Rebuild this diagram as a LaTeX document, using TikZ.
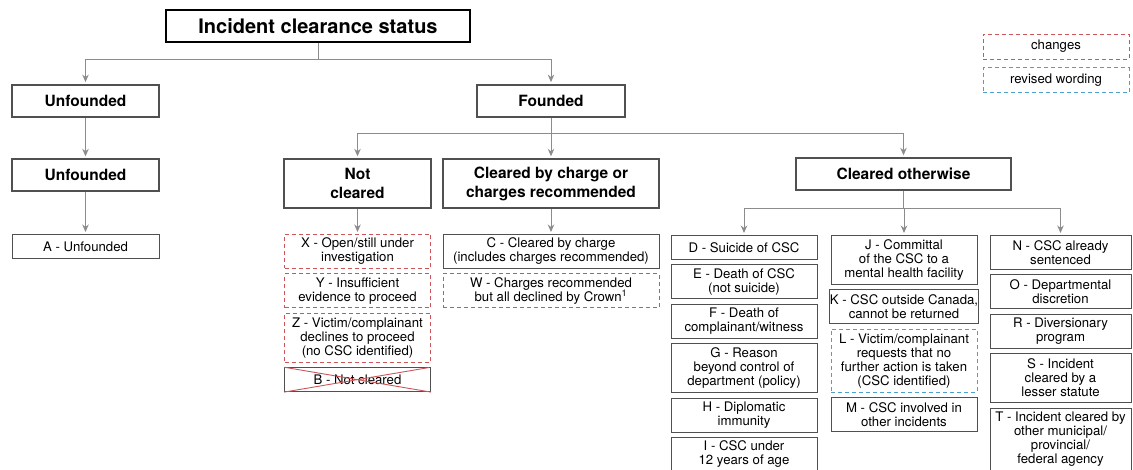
\documentclass[tikz,border=0pt]{standalone}
\usepackage{fontspec}
\setmainfont{TeX Gyre Heros}
\usetikzlibrary{arrows.meta, positioning}

\definecolor{boxgray}{RGB}{80,80,80}
\definecolor{linkgray}{RGB}{140,140,140}
\definecolor{chgred}{RGB}{205,85,90}
\definecolor{rewblue}{RGB}{75,160,205}

\tikzset{
	head/.style={draw=boxgray, line width=1.4pt, fill=white, text=black, align=center, inner sep=0pt, font=\bfseries\fontsize{15.5}{19}\selectfont},
	tier/.style={head, line width=1.8pt, minimum height=32pt},
	root/.style={head, draw=black, line width=1.8pt, minimum width=304pt, minimum height=32pt, font=\bfseries\fontsize{20}{24}\selectfont},
	leaf/.style={draw=boxgray, line width=0.9pt, fill=white, text=black, align=center, inner sep=0pt, minimum width=146pt, font=\fontsize{13.2}{14}\selectfont},
	changed/.style={leaf, draw=chgred, dash pattern=on 4pt off 3pt},
	reworded/.style={leaf, draw=rewblue, dash pattern=on 4pt off 3pt},
	l1/.style={minimum height=24pt},
	l2/.style={minimum height=34pt},
	l3/.style={minimum height=49pt},
	l4/.style={minimum height=63pt},
	link/.style={draw=linkgray, line width=1pt, ->}
}

\begin{document}
\begin{tikzpicture}[x=1pt, y=-1pt, >={Stealth[length=7.5pt, width=6.5pt]}, shorten >=2pt, node distance=4.5pt]
	\useasboundingbox[fill=white] (0,0) rectangle (1133,469);

	% headings
	\node[root] (status) at (318,26) {Incident clearance status};
	\node[tier, minimum width=147pt] (unfounded) at (85.5,101) {Unfounded};
	\node[tier, minimum width=148pt] (founded) at (551,101) {Founded};
	\node[head, minimum width=147pt, minimum height=32pt] (unfounded2) at (85.5,175) {Unfounded};
	\node[head, minimum width=147pt, minimum height=49pt] (notcleared) at (357.5,183.5) {Not\\cleared};
	\node[head, minimum width=216pt, minimum height=49pt] (chargecl) at (551,183.5) {Cleared by charge or\\charges recommended};
	\node[head, minimum width=215pt, minimum height=32pt] (otherwise) at (903.5,174) {Cleared otherwise};

	% unfounded
	\node[leaf, l1, minimum width=147pt, anchor=north] (lA) at (85.5,234) {A - Unfounded};

	% not cleared
	\node[changed, l2, anchor=north] (lX) at (357.5,234) {X - Open/still under\\investigation};
	\node[changed, l2, below=of lX] (lY) {Y - Insufficient\\evidence to proceed};
	\node[changed, l3, below=of lY] (lZ) {Z - Victim/complainant\\declines to proceed\\(no CSC identified)};
	\node[leaf, l1, below=of lZ] (lB) {B - Not cleared};
	\draw[chgred, line width=0.9pt] (lB.north west) -- (lB.south east) (lB.south west) -- (lB.north east);

	% cleared by charge
	\node[leaf, l2, minimum width=216pt, anchor=north] (lC) at (551,234) {C - Cleared by charge\\(includes charges recommended)};
	\node[changed, l2, minimum width=216pt, below=of lC] (lW) {W - Charges recommended\\but all declined by Crown\textsuperscript{1}};

	% cleared otherwise
	\node[leaf, l1, anchor=north] (lD) at (744,235) {D - Suicide of CSC};
	\node[leaf, l2, below=of lD] (lE) {E - Death of CSC\\(not suicide)};
	\node[leaf, l2, below=of lE] (lF) {F - Death of\\complainant/witness};
	\node[leaf, l3, below=of lF] (lG) {G - Reason\\beyond control of\\department (policy)};
	\node[leaf, l2, below=of lG] (lH) {H - Diplomatic\\immunity};
	\node[leaf, l2, below=of lH] (lI) {I - CSC under\\12 years of age};

	\node[leaf, l3, anchor=north] (lJ) at (904,235) {J - Committal\\of the CSC to a\\mental health facility};
	\node[leaf, l2, below=of lJ] (lK) {K - CSC outside Canada,\\cannot be returned};
	\node[reworded, l4, below=of lK] (lL) {L - Victim/complainant\\requests that no\\further action is taken\\(CSC identified)};
	\node[leaf, l2, below=of lL] (lM) {M - CSC involved in\\other incidents};

	\node[leaf, l2, minimum width=141pt, anchor=north] (lN) at (1060.5,235) {N - CSC already\\sentenced};
	\node[leaf, l2, minimum width=141pt, below=of lN] (lO) {O - Departmental\\discretion};
	\node[leaf, l2, minimum width=141pt, below=of lO] (lR) {R - Diversionary\\program};
	\node[leaf, l3, minimum width=141pt, below=of lR] (lS) {S - Incident\\cleared by a\\lesser statute};
	\node[leaf, l4, minimum width=141pt, below=of lS] (lT) {T - Incident cleared by\\other municipal/\\provincial/\\federal agency};

	% key
	\node[changed, minimum height=25pt] (keychanges) at (1056,46.5) {changes};
	\node[reworded, minimum height=25pt, below=8pt of keychanges] (keyreworded) {revised wording};

	% links
	\draw[link] (status.south) -- ++(0,17) -| (unfounded.north);
	\draw[link] (status.south) -- ++(0,17) -| (founded.north);
	\draw[link] (unfounded) -- (unfounded2);
	\draw[link] (unfounded2) -- (lA);
	\draw[link] (founded.south) -- ++(0,16) -| (notcleared.north);
	\draw[link] (founded) -- (chargecl);
	\draw[link] (founded.south) -- ++(0,16) -| (otherwise.north);
	\draw[link] (notcleared) -- (lX);
	\draw[link] (chargecl) -- (lC);
	\draw[link] (otherwise.south) -- ++(0,18) -| (lD.north);
	\draw[link] (otherwise.south) -- ++(0,18) -| (lJ.north);
	\draw[link] (otherwise.south) -- ++(0,18) -| (lN.north);
\end{tikzpicture}
\end{document}
